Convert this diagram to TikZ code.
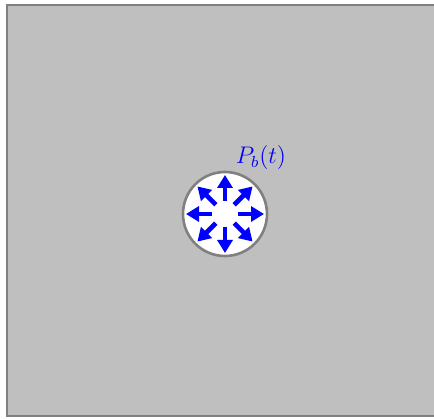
\documentclass[tikz,border=0pt]{standalone}
\usetikzlibrary{arrows.meta}
\begin{document}
\begin{tikzpicture}[x=0.5pt,y=0.5pt]

    % Stili
    \tikzset{dominio/.style={draw=black!50, fill=black!25, line width=1pt},
             bolla/.style={circle, draw=black!50, fill=white, line width=1.3pt, minimum size=42pt, inner sep=0pt},
             spinta/.style={blue, line width=2.3pt, -{Triangle[length=6.5pt,width=7.5pt]}}}

    % Area del disegno
    \useasboundingbox (0,0) rectangle (434,418);

    % Dominio grigio
    \draw[dominio] (7,2) rectangle (445,413);

    % Bolla
    \node[bolla] (bolla) at (225,204) {};

    % Pressione radiale
    \foreach \a in {0,45,...,315}
        \draw[spinta] ([shift={(\a:13)}]bolla.center) -- ([shift={(\a:39)}]bolla.center);

    % Etichetta
    \node[blue, font=\large] (pb) at (261,260) {$P_b(t)$};

\end{tikzpicture}
\end{document}
